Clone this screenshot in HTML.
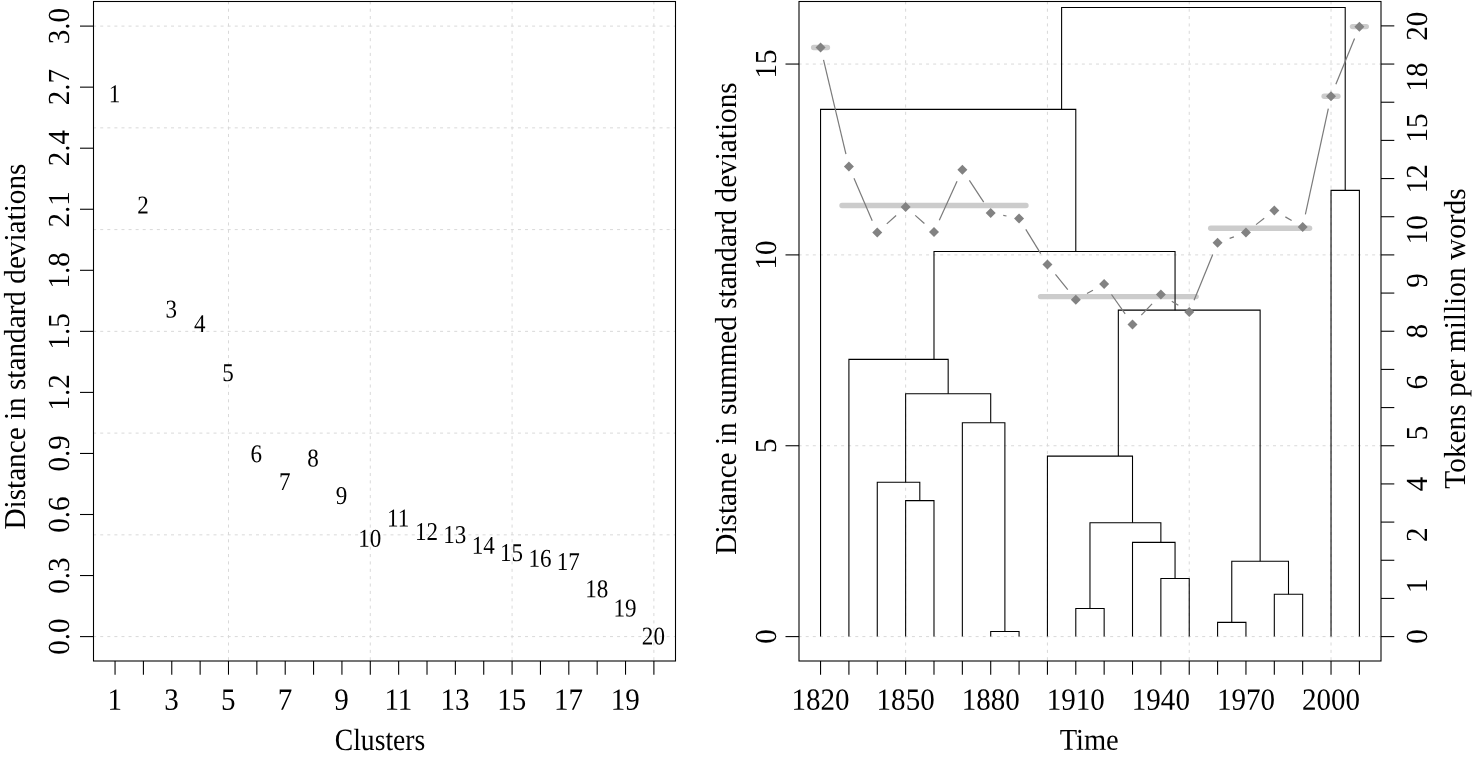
<!DOCTYPE html>
<html lang="en">
<head>
<meta charset="utf-8">
<title>Clusters and dendrogram</title>
<style>
html,body{margin:0;padding:0;background:#fff;}
body{width:1473px;height:759px;overflow:hidden;}
svg{display:block;}
.t{font-family:"Liberation Serif", "Times New Roman", serif;fill:#000;text-rendering:geometricPrecision;}
.k,.b,.d{stroke:#000;stroke-width:1.08;fill:none;stroke-linecap:butt;stroke-linejoin:miter;}
.g{stroke:#d9d9d9;stroke-width:1.0;stroke-dasharray:3 4.08;fill:none;}
.gh{stroke-dashoffset:0.35;}
.gv{stroke-dasharray:3.1 4.27;stroke-dashoffset:-0.7;}
.bar{stroke:#cccccc;stroke-width:5.4;stroke-linecap:round;fill:none;}
.ln{stroke:#7a7a7a;stroke-width:1.2;fill:none;}
.p{fill:#828282;stroke:none;}
</style>
</head>
<body>
<svg width="1473" height="759" viewBox="0 0 1473 759">
<rect x="0" y="0" width="1473" height="759" fill="#ffffff"/>
<g id="left-panel">
<line class="g gv" x1="228.49" y1="661.00" x2="228.49" y2="1.50"/>
<line class="g gv" x1="370.29" y1="661.00" x2="370.29" y2="1.50"/>
<line class="g gv" x1="512.09" y1="661.00" x2="512.09" y2="1.50"/>
<line class="g gv" x1="653.89" y1="661.00" x2="653.89" y2="1.50"/>
<line class="g gh" x1="93.50" y1="636.60" x2="675.50" y2="636.60"/>
<line class="g gh" x1="93.50" y1="534.85" x2="675.50" y2="534.85"/>
<line class="g gh" x1="93.50" y1="433.10" x2="675.50" y2="433.10"/>
<line class="g gh" x1="93.50" y1="331.35" x2="675.50" y2="331.35"/>
<line class="g gh" x1="93.50" y1="229.60" x2="675.50" y2="229.60"/>
<line class="g gh" x1="93.50" y1="127.85" x2="675.50" y2="127.85"/>
<line class="g gh" x1="93.50" y1="26.10" x2="675.50" y2="26.10"/>
<text class="t" font-size="25.6" text-anchor="middle" transform="translate(114.55 102.30) rotate(0.05) scale(0.9 1)">1</text>
<text class="t" font-size="25.6" text-anchor="middle" transform="translate(142.91 213.40) rotate(0.05) scale(0.9 1)">2</text>
<text class="t" font-size="25.6" text-anchor="middle" transform="translate(171.27 317.50) rotate(0.05) scale(0.9 1)">3</text>
<text class="t" font-size="25.6" text-anchor="middle" transform="translate(199.63 332.10) rotate(0.05) scale(0.9 1)">4</text>
<text class="t" font-size="25.6" text-anchor="middle" transform="translate(227.99 381.00) rotate(0.05) scale(0.9 1)">5</text>
<text class="t" font-size="25.6" text-anchor="middle" transform="translate(256.35 462.30) rotate(0.05) scale(0.9 1)">6</text>
<text class="t" font-size="25.6" text-anchor="middle" transform="translate(284.71 490.00) rotate(0.05) scale(0.9 1)">7</text>
<text class="t" font-size="25.6" text-anchor="middle" transform="translate(313.07 466.60) rotate(0.05) scale(0.9 1)">8</text>
<text class="t" font-size="25.6" text-anchor="middle" transform="translate(341.43 504.00) rotate(0.05) scale(0.9 1)">9</text>
<text class="t" font-size="25.6" text-anchor="middle" transform="translate(369.79 546.80) rotate(0.05) scale(0.9 1)">10</text>
<text class="t" font-size="25.6" text-anchor="middle" transform="translate(398.15 526.50) rotate(0.05) scale(0.9 1)">11</text>
<text class="t" font-size="25.6" text-anchor="middle" transform="translate(426.51 540.00) rotate(0.05) scale(0.9 1)">12</text>
<text class="t" font-size="25.6" text-anchor="middle" transform="translate(454.87 543.10) rotate(0.05) scale(0.9 1)">13</text>
<text class="t" font-size="25.6" text-anchor="middle" transform="translate(483.23 553.80) rotate(0.05) scale(0.9 1)">14</text>
<text class="t" font-size="25.6" text-anchor="middle" transform="translate(511.59 560.90) rotate(0.05) scale(0.9 1)">15</text>
<text class="t" font-size="25.6" text-anchor="middle" transform="translate(539.95 566.80) rotate(0.05) scale(0.9 1)">16</text>
<text class="t" font-size="25.6" text-anchor="middle" transform="translate(568.31 570.00) rotate(0.05) scale(0.9 1)">17</text>
<text class="t" font-size="25.6" text-anchor="middle" transform="translate(596.67 597.20) rotate(0.05) scale(0.9 1)">18</text>
<text class="t" font-size="25.6" text-anchor="middle" transform="translate(625.03 616.60) rotate(0.05) scale(0.9 1)">19</text>
<text class="t" font-size="25.6" text-anchor="middle" transform="translate(653.39 644.60) rotate(0.05) scale(0.9 1)">20</text>
<rect class="b" x="93.5" y="1.5" width="582.0" height="659.5"/>
<line class="k" x1="115.05" y1="661.00" x2="115.05" y2="674.70"/>
<line class="k" x1="143.41" y1="661.00" x2="143.41" y2="674.70"/>
<line class="k" x1="171.77" y1="661.00" x2="171.77" y2="674.70"/>
<line class="k" x1="200.13" y1="661.00" x2="200.13" y2="674.70"/>
<line class="k" x1="228.49" y1="661.00" x2="228.49" y2="674.70"/>
<line class="k" x1="256.85" y1="661.00" x2="256.85" y2="674.70"/>
<line class="k" x1="285.21" y1="661.00" x2="285.21" y2="674.70"/>
<line class="k" x1="313.57" y1="661.00" x2="313.57" y2="674.70"/>
<line class="k" x1="341.93" y1="661.00" x2="341.93" y2="674.70"/>
<line class="k" x1="370.29" y1="661.00" x2="370.29" y2="674.70"/>
<line class="k" x1="398.65" y1="661.00" x2="398.65" y2="674.70"/>
<line class="k" x1="427.01" y1="661.00" x2="427.01" y2="674.70"/>
<line class="k" x1="455.37" y1="661.00" x2="455.37" y2="674.70"/>
<line class="k" x1="483.73" y1="661.00" x2="483.73" y2="674.70"/>
<line class="k" x1="512.09" y1="661.00" x2="512.09" y2="674.70"/>
<line class="k" x1="540.45" y1="661.00" x2="540.45" y2="674.70"/>
<line class="k" x1="568.81" y1="661.00" x2="568.81" y2="674.70"/>
<line class="k" x1="597.17" y1="661.00" x2="597.17" y2="674.70"/>
<line class="k" x1="625.53" y1="661.00" x2="625.53" y2="674.70"/>
<line class="k" x1="653.89" y1="661.00" x2="653.89" y2="674.70"/>
<text class="t" font-size="30.8" text-anchor="middle" transform="translate(114.75 709.80) rotate(0.05) scale(0.942 1)">1</text>
<text class="t" font-size="30.8" text-anchor="middle" transform="translate(171.47 709.80) rotate(0.05) scale(0.942 1)">3</text>
<text class="t" font-size="30.8" text-anchor="middle" transform="translate(228.19 709.80) rotate(0.05) scale(0.942 1)">5</text>
<text class="t" font-size="30.8" text-anchor="middle" transform="translate(284.91 709.80) rotate(0.05) scale(0.942 1)">7</text>
<text class="t" font-size="30.8" text-anchor="middle" transform="translate(341.63 709.80) rotate(0.05) scale(0.942 1)">9</text>
<text class="t" font-size="30.8" text-anchor="middle" transform="translate(398.35 709.80) rotate(0.05) scale(0.942 1)">11</text>
<text class="t" font-size="30.8" text-anchor="middle" transform="translate(455.07 709.80) rotate(0.05) scale(0.942 1)">13</text>
<text class="t" font-size="30.8" text-anchor="middle" transform="translate(511.79 709.80) rotate(0.05) scale(0.942 1)">15</text>
<text class="t" font-size="30.8" text-anchor="middle" transform="translate(568.51 709.80) rotate(0.05) scale(0.942 1)">17</text>
<text class="t" font-size="30.8" text-anchor="middle" transform="translate(625.23 709.80) rotate(0.05) scale(0.942 1)">19</text>
<line class="k" x1="93.50" y1="636.60" x2="80.00" y2="636.60"/>
<text class="t" font-size="30.6" text-anchor="middle" transform="translate(69.30 636.60) rotate(-90) scale(0.948 1)">0.0</text>
<line class="k" x1="93.50" y1="575.55" x2="80.00" y2="575.55"/>
<text class="t" font-size="30.6" text-anchor="middle" transform="translate(69.30 575.55) rotate(-90) scale(0.948 1)">0.3</text>
<line class="k" x1="93.50" y1="514.50" x2="80.00" y2="514.50"/>
<text class="t" font-size="30.6" text-anchor="middle" transform="translate(69.30 514.50) rotate(-90) scale(0.948 1)">0.6</text>
<line class="k" x1="93.50" y1="453.45" x2="80.00" y2="453.45"/>
<text class="t" font-size="30.6" text-anchor="middle" transform="translate(69.30 453.45) rotate(-90) scale(0.948 1)">0.9</text>
<line class="k" x1="93.50" y1="392.40" x2="80.00" y2="392.40"/>
<text class="t" font-size="30.6" text-anchor="middle" transform="translate(69.30 392.40) rotate(-90) scale(0.948 1)">1.2</text>
<line class="k" x1="93.50" y1="331.35" x2="80.00" y2="331.35"/>
<text class="t" font-size="30.6" text-anchor="middle" transform="translate(69.30 331.35) rotate(-90) scale(0.948 1)">1.5</text>
<line class="k" x1="93.50" y1="270.30" x2="80.00" y2="270.30"/>
<text class="t" font-size="30.6" text-anchor="middle" transform="translate(69.30 270.30) rotate(-90) scale(0.948 1)">1.8</text>
<line class="k" x1="93.50" y1="209.25" x2="80.00" y2="209.25"/>
<text class="t" font-size="30.6" text-anchor="middle" transform="translate(69.30 209.25) rotate(-90) scale(0.948 1)">2.1</text>
<line class="k" x1="93.50" y1="148.20" x2="80.00" y2="148.20"/>
<text class="t" font-size="30.6" text-anchor="middle" transform="translate(69.30 148.20) rotate(-90) scale(0.948 1)">2.4</text>
<line class="k" x1="93.50" y1="87.15" x2="80.00" y2="87.15"/>
<text class="t" font-size="30.6" text-anchor="middle" transform="translate(69.30 87.15) rotate(-90) scale(0.948 1)">2.7</text>
<line class="k" x1="93.50" y1="26.10" x2="80.00" y2="26.10"/>
<text class="t" font-size="30.6" text-anchor="middle" transform="translate(69.30 26.10) rotate(-90) scale(0.948 1)">3.0</text>
<text class="t" font-size="30.8" text-anchor="middle" transform="translate(380.00 750.00) rotate(0.05) scale(0.896 1)">Clusters</text>
<text class="t" font-size="30.4" text-anchor="middle" transform="translate(24.90 346.60) rotate(-90) scale(0.9615 1)">Distance in standard deviations</text>
</g>
<g id="right-panel">
<line class="g gv" x1="905.63" y1="661.00" x2="905.63" y2="1.50"/>
<line class="g gv" x1="1047.43" y1="661.00" x2="1047.43" y2="1.50"/>
<line class="g gv" x1="1189.23" y1="661.00" x2="1189.23" y2="1.50"/>
<line class="g gv" x1="1331.03" y1="661.00" x2="1331.03" y2="1.50"/>
<line class="g gh" x1="799.00" y1="636.60" x2="1381.00" y2="636.60"/>
<line class="g gh" x1="799.00" y1="445.75" x2="1381.00" y2="445.75"/>
<line class="g gh" x1="799.00" y1="254.90" x2="1381.00" y2="254.90"/>
<line class="g gh" x1="799.00" y1="64.05" x2="1381.00" y2="64.05"/>
<line class="bar" x1="813.65" y1="47.50" x2="827.45" y2="47.50"/>
<line class="bar" x1="842.01" y1="205.50" x2="1025.97" y2="205.50"/>
<line class="bar" x1="1040.53" y1="296.60" x2="1196.13" y2="296.60"/>
<line class="bar" x1="1210.69" y1="228.20" x2="1309.57" y2="228.20"/>
<line class="bar" x1="1324.13" y1="96.20" x2="1337.93" y2="96.20"/>
<line class="bar" x1="1352.49" y1="26.60" x2="1366.29" y2="26.60"/>
<polyline class="d" points="990.71,636.60 990.71,631.50 1019.07,631.50 1019.07,636.60"/>
<polyline class="d" points="905.63,636.60 905.63,500.60 933.99,500.60 933.99,636.60"/>
<polyline class="d" points="877.27,636.60 877.27,482.20 919.81,482.20 919.81,500.60"/>
<polyline class="d" points="962.35,636.60 962.35,422.70 1004.89,422.70 1004.89,631.50"/>
<polyline class="d" points="905.63,482.20 905.63,393.80 990.71,393.80 990.71,422.70"/>
<polyline class="d" points="848.91,636.60 848.91,359.40 948.17,359.40 948.17,393.80"/>
<polyline class="d" points="1075.79,636.60 1075.79,608.50 1104.15,608.50 1104.15,636.60"/>
<polyline class="d" points="1160.87,636.60 1160.87,578.50 1189.23,578.50 1189.23,636.60"/>
<polyline class="d" points="1132.51,636.60 1132.51,542.40 1175.05,542.40 1175.05,578.50"/>
<polyline class="d" points="1089.97,608.50 1089.97,522.70 1160.87,522.70 1160.87,542.40"/>
<polyline class="d" points="1047.43,636.60 1047.43,456.10 1132.51,456.10 1132.51,522.70"/>
<polyline class="d" points="1217.59,636.60 1217.59,622.40 1245.95,622.40 1245.95,636.60"/>
<polyline class="d" points="1274.31,636.60 1274.31,594.20 1302.67,594.20 1302.67,636.60"/>
<polyline class="d" points="1231.77,622.40 1231.77,561.20 1288.49,561.20 1288.49,594.20"/>
<polyline class="d" points="1118.33,456.10 1118.33,310.15 1260.13,310.15 1260.13,561.20"/>
<polyline class="d" points="933.99,359.40 933.99,251.50 1175.05,251.50 1175.05,310.15"/>
<polyline class="d" points="820.55,636.60 820.55,109.40 1075.79,109.40 1075.79,251.50"/>
<polyline class="d" points="1331.03,636.60 1331.03,190.40 1359.39,190.40 1359.39,636.60"/>
<polyline class="d" points="1061.61,109.40 1061.61,7.50 1345.21,7.50 1345.21,190.40"/>
<line class="ln" x1="823.52" y1="59.95" x2="845.94" y2="154.05"/>
<line class="ln" x1="853.97" y1="178.26" x2="872.21" y2="220.64"/>
<line class="ln" x1="886.79" y1="223.84" x2="896.11" y2="215.46"/>
<line class="ln" x1="915.22" y1="215.38" x2="924.40" y2="223.52"/>
<line class="ln" x1="939.29" y1="220.35" x2="957.05" y2="181.35"/>
<line class="ln" x1="969.37" y1="180.40" x2="983.69" y2="202.20"/>
<line class="ln" x1="1003.27" y1="215.38" x2="1006.51" y2="216.02"/>
<line class="ln" x1="1025.79" y1="229.40" x2="1040.71" y2="253.60"/>
<line class="ln" x1="1055.46" y1="274.47" x2="1067.76" y2="289.73"/>
<line class="ln" x1="1086.99" y1="293.50" x2="1092.95" y2="290.20"/>
<line class="ln" x1="1111.50" y1="294.48" x2="1125.16" y2="313.92"/>
<line class="ln" x1="1141.32" y1="315.11" x2="1152.06" y2="303.79"/>
<line class="ln" x1="1171.76" y1="301.22" x2="1178.34" y2="305.28"/>
<line class="ln" x1="1194.08" y1="300.15" x2="1212.74" y2="254.55"/>
<line class="ln" x1="1229.63" y1="238.37" x2="1233.91" y2="236.83"/>
<line class="ln" x1="1256.05" y1="224.63" x2="1264.21" y2="218.27"/>
<line class="ln" x1="1285.36" y1="216.87" x2="1291.62" y2="220.53"/>
<line class="ln" x1="1305.38" y1="214.49" x2="1328.32" y2="108.71"/>
<line class="ln" x1="1335.87" y1="84.35" x2="1354.55" y2="38.55"/>
<polygon class="p" points="820.55,42.50 825.55,47.50 820.55,52.50 815.55,47.50"/>
<polygon class="p" points="848.91,161.50 853.91,166.50 848.91,171.50 843.91,166.50"/>
<polygon class="p" points="877.27,227.40 882.27,232.40 877.27,237.40 872.27,232.40"/>
<polygon class="p" points="905.63,201.90 910.63,206.90 905.63,211.90 900.63,206.90"/>
<polygon class="p" points="933.99,227.00 938.99,232.00 933.99,237.00 928.99,232.00"/>
<polygon class="p" points="962.35,164.70 967.35,169.70 962.35,174.70 957.35,169.70"/>
<polygon class="p" points="990.71,207.90 995.71,212.90 990.71,217.90 985.71,212.90"/>
<polygon class="p" points="1019.07,213.50 1024.07,218.50 1019.07,223.50 1014.07,218.50"/>
<polygon class="p" points="1047.43,259.50 1052.43,264.50 1047.43,269.50 1042.43,264.50"/>
<polygon class="p" points="1075.79,294.70 1080.79,299.70 1075.79,304.70 1070.79,299.70"/>
<polygon class="p" points="1104.15,279.00 1109.15,284.00 1104.15,289.00 1099.15,284.00"/>
<polygon class="p" points="1132.51,319.40 1137.51,324.40 1132.51,329.40 1127.51,324.40"/>
<polygon class="p" points="1160.87,289.50 1165.87,294.50 1160.87,299.50 1155.87,294.50"/>
<polygon class="p" points="1189.23,307.00 1194.23,312.00 1189.23,317.00 1184.23,312.00"/>
<polygon class="p" points="1217.59,237.70 1222.59,242.70 1217.59,247.70 1212.59,242.70"/>
<polygon class="p" points="1245.95,227.50 1250.95,232.50 1245.95,237.50 1240.95,232.50"/>
<polygon class="p" points="1274.31,205.40 1279.31,210.40 1274.31,215.40 1269.31,210.40"/>
<polygon class="p" points="1302.67,222.00 1307.67,227.00 1302.67,232.00 1297.67,227.00"/>
<polygon class="p" points="1331.03,91.20 1336.03,96.20 1331.03,101.20 1326.03,96.20"/>
<polygon class="p" points="1359.39,21.70 1364.39,26.70 1359.39,31.70 1354.39,26.70"/>
<rect class="b" x="799.0" y="1.5" width="582.0" height="659.5"/>
<line class="k" x1="820.55" y1="661.00" x2="820.55" y2="674.70"/>
<line class="k" x1="848.91" y1="661.00" x2="848.91" y2="674.70"/>
<line class="k" x1="877.27" y1="661.00" x2="877.27" y2="674.70"/>
<line class="k" x1="905.63" y1="661.00" x2="905.63" y2="674.70"/>
<line class="k" x1="933.99" y1="661.00" x2="933.99" y2="674.70"/>
<line class="k" x1="962.35" y1="661.00" x2="962.35" y2="674.70"/>
<line class="k" x1="990.71" y1="661.00" x2="990.71" y2="674.70"/>
<line class="k" x1="1019.07" y1="661.00" x2="1019.07" y2="674.70"/>
<line class="k" x1="1047.43" y1="661.00" x2="1047.43" y2="674.70"/>
<line class="k" x1="1075.79" y1="661.00" x2="1075.79" y2="674.70"/>
<line class="k" x1="1104.15" y1="661.00" x2="1104.15" y2="674.70"/>
<line class="k" x1="1132.51" y1="661.00" x2="1132.51" y2="674.70"/>
<line class="k" x1="1160.87" y1="661.00" x2="1160.87" y2="674.70"/>
<line class="k" x1="1189.23" y1="661.00" x2="1189.23" y2="674.70"/>
<line class="k" x1="1217.59" y1="661.00" x2="1217.59" y2="674.70"/>
<line class="k" x1="1245.95" y1="661.00" x2="1245.95" y2="674.70"/>
<line class="k" x1="1274.31" y1="661.00" x2="1274.31" y2="674.70"/>
<line class="k" x1="1302.67" y1="661.00" x2="1302.67" y2="674.70"/>
<line class="k" x1="1331.03" y1="661.00" x2="1331.03" y2="674.70"/>
<line class="k" x1="1359.39" y1="661.00" x2="1359.39" y2="674.70"/>
<text class="t" font-size="30.8" text-anchor="middle" transform="translate(820.55 709.80) rotate(0.05) scale(0.942 1)">1820</text>
<text class="t" font-size="30.8" text-anchor="middle" transform="translate(905.63 709.80) rotate(0.05) scale(0.942 1)">1850</text>
<text class="t" font-size="30.8" text-anchor="middle" transform="translate(990.71 709.80) rotate(0.05) scale(0.942 1)">1880</text>
<text class="t" font-size="30.8" text-anchor="middle" transform="translate(1075.79 709.80) rotate(0.05) scale(0.942 1)">1910</text>
<text class="t" font-size="30.8" text-anchor="middle" transform="translate(1160.87 709.80) rotate(0.05) scale(0.942 1)">1940</text>
<text class="t" font-size="30.8" text-anchor="middle" transform="translate(1245.95 709.80) rotate(0.05) scale(0.942 1)">1970</text>
<text class="t" font-size="30.8" text-anchor="middle" transform="translate(1331.03 709.80) rotate(0.05) scale(0.942 1)">2000</text>
<line class="k" x1="799.00" y1="636.60" x2="785.50" y2="636.60"/>
<text class="t" font-size="30.6" text-anchor="middle" transform="translate(775.90 636.60) rotate(-90) scale(0.948 1)">0</text>
<line class="k" x1="799.00" y1="445.75" x2="785.50" y2="445.75"/>
<text class="t" font-size="30.6" text-anchor="middle" transform="translate(775.90 445.75) rotate(-90) scale(0.948 1)">5</text>
<line class="k" x1="799.00" y1="254.90" x2="785.50" y2="254.90"/>
<text class="t" font-size="30.6" text-anchor="middle" transform="translate(775.90 254.90) rotate(-90) scale(0.948 1)">10</text>
<line class="k" x1="799.00" y1="64.05" x2="785.50" y2="64.05"/>
<text class="t" font-size="30.6" text-anchor="middle" transform="translate(775.90 64.05) rotate(-90) scale(0.948 1)">15</text>
<line class="k" x1="1381.00" y1="636.60" x2="1394.30" y2="636.60"/>
<line class="k" x1="1381.00" y1="598.43" x2="1394.30" y2="598.43"/>
<line class="k" x1="1381.00" y1="560.26" x2="1394.30" y2="560.26"/>
<line class="k" x1="1381.00" y1="522.09" x2="1394.30" y2="522.09"/>
<line class="k" x1="1381.00" y1="483.92" x2="1394.30" y2="483.92"/>
<line class="k" x1="1381.00" y1="445.75" x2="1394.30" y2="445.75"/>
<line class="k" x1="1381.00" y1="407.58" x2="1394.30" y2="407.58"/>
<line class="k" x1="1381.00" y1="369.41" x2="1394.30" y2="369.41"/>
<line class="k" x1="1381.00" y1="331.24" x2="1394.30" y2="331.24"/>
<line class="k" x1="1381.00" y1="293.07" x2="1394.30" y2="293.07"/>
<line class="k" x1="1381.00" y1="254.90" x2="1394.30" y2="254.90"/>
<line class="k" x1="1381.00" y1="216.73" x2="1394.30" y2="216.73"/>
<line class="k" x1="1381.00" y1="178.56" x2="1394.30" y2="178.56"/>
<line class="k" x1="1381.00" y1="140.39" x2="1394.30" y2="140.39"/>
<line class="k" x1="1381.00" y1="102.22" x2="1394.30" y2="102.22"/>
<line class="k" x1="1381.00" y1="64.05" x2="1394.30" y2="64.05"/>
<line class="k" x1="1381.00" y1="25.88" x2="1394.30" y2="25.88"/>
<text class="t" font-size="30.6" text-anchor="middle" transform="translate(1427.20 636.60) rotate(-90) scale(0.948 1)">0</text>
<text class="t" font-size="30.6" text-anchor="middle" transform="translate(1427.20 585.73) rotate(-90) scale(0.948 1)">1</text>
<text class="t" font-size="30.6" text-anchor="middle" transform="translate(1427.20 534.86) rotate(-90) scale(0.948 1)">2</text>
<text class="t" font-size="30.6" text-anchor="middle" transform="translate(1427.20 483.99) rotate(-90) scale(0.948 1)">4</text>
<text class="t" font-size="30.6" text-anchor="middle" transform="translate(1427.20 433.12) rotate(-90) scale(0.948 1)">5</text>
<text class="t" font-size="30.6" text-anchor="middle" transform="translate(1427.20 382.25) rotate(-90) scale(0.948 1)">6</text>
<text class="t" font-size="30.6" text-anchor="middle" transform="translate(1427.20 331.38) rotate(-90) scale(0.948 1)">8</text>
<text class="t" font-size="30.6" text-anchor="middle" transform="translate(1427.20 280.51) rotate(-90) scale(0.948 1)">9</text>
<text class="t" font-size="30.6" text-anchor="middle" transform="translate(1427.20 229.64) rotate(-90) scale(0.948 1)">10</text>
<text class="t" font-size="30.6" text-anchor="middle" transform="translate(1427.20 178.77) rotate(-90) scale(0.948 1)">12</text>
<text class="t" font-size="30.6" text-anchor="middle" transform="translate(1427.20 127.90) rotate(-90) scale(0.948 1)">15</text>
<text class="t" font-size="30.6" text-anchor="middle" transform="translate(1427.20 77.03) rotate(-90) scale(0.948 1)">18</text>
<text class="t" font-size="30.6" text-anchor="middle" transform="translate(1427.20 26.16) rotate(-90) scale(0.948 1)">20</text>
<text class="t" font-size="30.3" text-anchor="middle" transform="translate(1089.20 749.85) rotate(0.05) scale(0.94 1)">Time</text>
<text class="t" font-size="30.4" text-anchor="middle" transform="translate(735.60 318.50) rotate(-90) scale(0.9615 1)">Distance in summed standard deviations</text>
<text class="t" font-size="30.4" text-anchor="middle" transform="translate(1464.50 338.50) rotate(-90) scale(0.9656 1)">Tokens per million words</text>
</g>
</svg>
</body>
</html>
